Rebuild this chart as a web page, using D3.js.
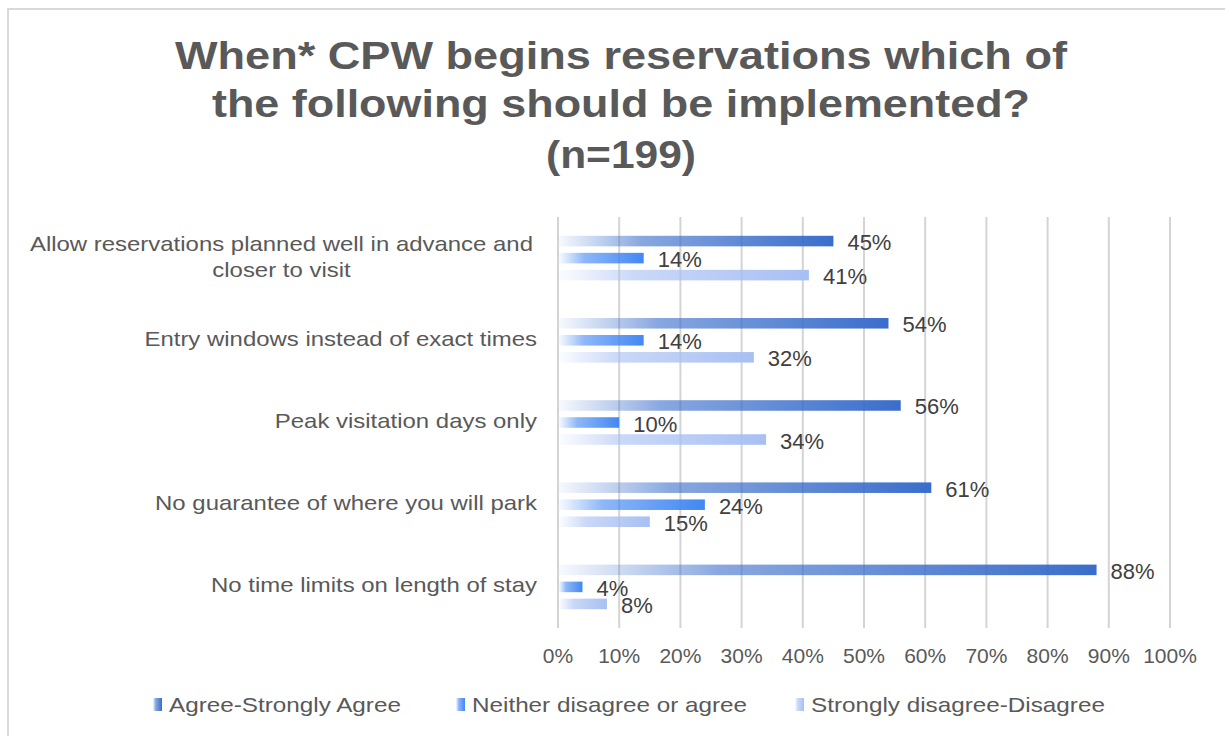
<!DOCTYPE html>
<html>
<head>
<meta charset="utf-8">
<script src="https://cdn.jsdelivr.net/npm/d3@7"></script>
<style>
  html, body { margin: 0; padding: 0; background: #fff; }
  svg { display: block; font-family: "Liberation Sans", Arial, sans-serif; }
</style>
</head>
<body>
<svg id="chart" width="1225" height="736"></svg>
<script>
// categories, top to bottom
var categories = [
    "Allow reservations planned well in advance and|closer to visit",
    "Entry windows instead of exact times",
    "Peak visitation days only",
    "No guarantee of where you will park",
    "No time limits on length of stay"
];

var series = ["Agree-Strongly Agree", "Neither disagree or agree", "Strongly disagree-Disagree"];

// percent values per series, same order as categories
var agree    = [45, 54, 56, 61, 88];
var neither  = [14, 14, 10, 24, 4];
var disagree = [41, 32, 34, 15, 8];

var ticks = [0, 10, 20, 30, 40, 50, 60, 70, 80, 90, 100];

var titleLines = ["When* CPW begins reservations which of", "the following should be implemented?", "(n=199)"];

var colors = ["#3a6dcb", "#4287f3", "#a7bff3"];

var svg = d3.select("#chart");

// the source font renders a bit wider than Liberation Sans
function stretch(sel, k) {
    sel.each(function() {
        var w = this.getComputedTextLength();
        d3.select(this).attr("textLength", w * k).attr("lengthAdjust", "spacingAndGlyphs");
    });
}

// outer frame
svg.append("rect")
    .attr("x", 8).attr("y", 9)
    .attr("width", 1300).attr("height", 800)
    .attr("fill", "none")
    .attr("stroke", "#d9d9d9")
    .attr("stroke-width", 2);

// gradients, one per series
var defs = svg.append("defs");
colors.forEach(function(c, i) {
    var g = defs.append("linearGradient")
        .attr("id", "grad" + i)
        .attr("x1", "0").attr("y1", "0")
        .attr("x2", "1").attr("y2", "0");
    g.append("stop").attr("offset", "0%").attr("stop-color", c).attr("stop-opacity", 0.04);
    g.append("stop").attr("offset", "30%").attr("stop-color", c).attr("stop-opacity", 0.6);
    g.append("stop").attr("offset", "100%").attr("stop-color", c).attr("stop-opacity", 1);
});

// title
var title = svg.append("text")
    .attr("text-anchor", "middle")
    .attr("font-size", "39px")
    .attr("font-weight", "bold")
    .attr("fill", "#595959");
var titleWidths = [892, 818, 150];
var titleY = [69, 117, 168];
titleLines.forEach(function(t, i) {
    title.append("tspan")
        .attr("x", 621)
        .attr("y", titleY[i])
        .attr("textLength", titleWidths[i])
        .attr("lengthAdjust", "spacingAndGlyphs")
        .text(t);
});

// scales
var x = d3.scaleLinear().domain([0, 100]).range([558, 1170]);
var y0 = d3.scaleBand().domain(categories).range([217, 628]);
var y1 = d3.scaleBand().domain(series).range([-22.3, 22.3]).paddingInner(0.38);

// gridlines
svg.append("g")
    .selectAll("line")
    .data(ticks)
    .enter()
    .append("line")
    .attr("x1", function(d) { return x(d); })
    .attr("x2", function(d) { return x(d); })
    .attr("y1", 217)
    .attr("y2", 628)
    .attr("stroke", "#d4d4d4")
    .attr("stroke-width", 2);

// x tick labels
svg.append("g")
    .selectAll("text")
    .data(ticks)
    .enter()
    .append("text")
    .attr("x", function(d) { return x(d); })
    .attr("y", 663)
    .attr("text-anchor", "middle")
    .attr("font-size", "21px")
    .attr("fill", "#595959")
    .text(function(d) { return d + "%"; });

// category labels, placed from their left edge after stretching
function catLabel(str, right, py) {
    var t = svg.append("text")
        .attr("y", py)
        .attr("font-size", "21px")
        .attr("fill", "#595959")
        .text(str);
    var w = t.node().getComputedTextLength() * 1.14;
    t.attr("x", right - w)
        .attr("textLength", w)
        .attr("lengthAdjust", "spacingAndGlyphs");
    return w;
}

categories.forEach(function(c) {
    var parts = c.split("|");
    var cy = y0(c) + y0.bandwidth() / 2;
    if (parts.length == 1) {
        catLabel(c, 537, cy + 5.5);
    } else {
        // two lines, second centered under first
        var w1 = catLabel(parts[0], 533, cy - 7.5);
        var mid = 533 - w1 / 2;
        var t2 = svg.append("text").attr("font-size", "21px").text(parts[1]);
        var w2 = t2.node().getComputedTextLength() * 1.14;
        t2.remove();
        catLabel(parts[1], mid + w2 / 2, cy + 18.5);
    }
});

// bars
var seriesData = [agree, neither, disagree];
var rows = [];
seriesData.forEach(function(vals, s) {
    vals.forEach(function(v, i) {
        rows.push({"cat": categories[i], "s": s, "v": v});
    });
});

function barY(d) {
    return y0(d.cat) + y0.bandwidth() / 2 + y1(series[d.s]);
}

svg.append("g")
    .selectAll("rect")
    .data(rows)
    .enter()
    .append("rect")
    .attr("x", x(0) + 1)
    .attr("y", barY)
    .attr("width", function(d) { return x(d.v) - x(0) - 1; })
    .attr("height", y1.bandwidth())
    .attr("fill", function(d) { return "url(#grad" + d.s + ")"; });

// data labels
svg.append("g")
    .selectAll("text")
    .data(rows)
    .enter()
    .append("text")
    .attr("x", function(d) { return x(d.v) + 14; })
    .attr("y", function(d) { return barY(d) + y1.bandwidth() / 2 + 9; })
    .attr("font-size", "22px")
    .attr("fill", "#404040")
    .text(function(d) { return d.v + "%"; });

// legend
var legendX = [153, 456, 795];
var legend = svg.append("g")
    .selectAll("g")
    .data(series)
    .enter()
    .append("g")
    .attr("transform", function(d, i) { return "translate(" + legendX[i] + ",0)"; });

legend.append("rect")
    .attr("x", 0).attr("y", 698)
    .attr("width", 9).attr("height", 13)
    .attr("fill", function(d, i) { return "url(#grad" + i + ")"; });

var legendText = legend.append("text")
    .attr("x", 16).attr("y", 712)
    .attr("font-size", "21px")
    .attr("fill", "#595959")
    .text(function(d) { return d; });
stretch(legendText, 1.155);
</script>
</body>
</html>
